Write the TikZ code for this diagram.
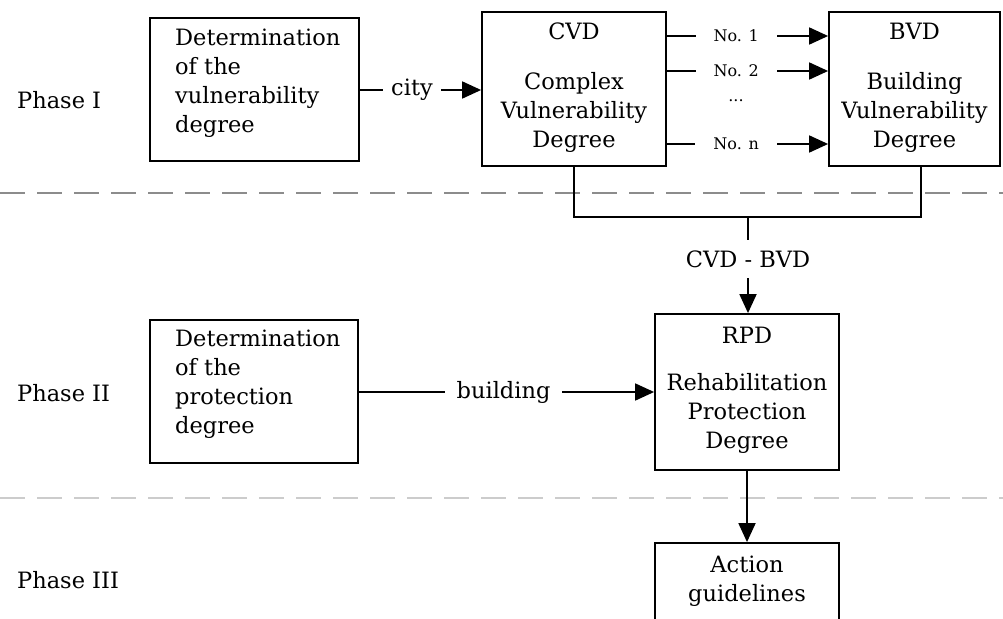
\documentclass[tikz,border=0pt]{standalone}
\usepackage{fontspec}
\setmainfont{DejaVu Serif}
\usetikzlibrary{arrows.meta}
\begin{document}
\begin{tikzpicture}[x=1pt,y=-1pt,
  box/.style={draw, line width=1.8pt, inner sep=0pt},
  txt/.style={font=\fontsize{22.5}{29}\selectfont, inner sep=0pt},
  small/.style={font=\fontsize{16}{18}\selectfont, inner sep=0pt},
  conn/.style={line width=1.8pt},
  arr/.style={line width=1.8pt, -{Triangle[length=19pt,width=17pt]}},
  gap/.style={fill=white, inner ysep=2pt},
  sep1/.style={draw=black!45, line width=1.2pt, dash pattern=on 25pt off 12pt},
  sep2/.style={draw=black!20, line width=1.2pt, dash pattern=on 25pt off 12pt}]
\useasboundingbox (0,0) rectangle (1003,618);
\clip (0,0) rectangle (1003,618);
% separators
\draw[sep1] (0,193) -- (1003,193);
\draw[sep2] (0,498) -- (1003,498);
% phase labels
\node[txt, anchor=west] (p1) at (17,100) {Phase I};
\node[txt, anchor=west] (p2) at (17,393) {Phase II};
\node[txt, anchor=west] (p3) at (17,580) {Phase III};
% boxes
\node[box, minimum width=209pt, minimum height=143pt] (b1) at (254.5,89.5) {};
\node[txt, anchor=west, align=left] (b1t) at (175,83) {Determination\\of the\\vulnerability\\degree};
\node[box, minimum width=184pt, minimum height=154pt] (cvd) at (574,89) {};
\node[txt, align=center] (cvdt) at (574,88) {CVD\\[21pt]Complex\\Vulnerability\\Degree};
\node[box, minimum width=171pt, minimum height=154pt] (bvd) at (914.5,89) {};
\node[txt, align=center] (bvdt) at (914.5,88) {BVD\\[21pt]Building\\Vulnerability\\Degree};
\node[box, minimum width=208pt, minimum height=143pt] (b2) at (254,391.5) {};
\node[txt, anchor=west, align=left] (b2t) at (175,384) {Determination\\of the\\protection\\degree};
\node[box, minimum width=184pt, minimum height=156pt] (rpd) at (747,392) {};
\node[txt, align=center] (rpdt) at (747,390.5) {RPD\\[18pt]Rehabilitation\\Protection\\Degree};
\node[box, minimum width=184pt, minimum height=100pt] (act) at (747,593) {};
\node[txt, align=center] (actt) at (747,581) {Action\\guidelines};
% connectors phase I
\draw[arr] (b1.east |- 0,90) -- node[txt, gap, pos=0.43, inner xsep=8pt] {city} (cvd.west |- 0,90);
\draw[arr] (cvd.east |- 0,36) -- node[small, gap, pos=0.43, inner xsep=18pt] {No. 1} (bvd.west |- 0,36);
\draw[arr] (cvd.east |- 0,71) -- node[small, gap, pos=0.43, inner xsep=18pt] {No. 2} (bvd.west |- 0,71);
\node[small] (dots) at (736,101) {...};
\draw[arr] (cvd.east |- 0,144) -- node[small, gap, pos=0.43, inner xsep=18pt] {No. n} (bvd.west |- 0,144);
% bracket
\coordinate (j) at (748,217);
\draw[conn] (cvd.south) -- (cvd.south |- j) -- (921,217) -- (921,166);
\node[txt] (cb) at (748,259) {CVD - BVD};
\draw[conn] (j) -- (748,240);
\draw[arr] (748,278) -- (rpd.north -| 748,0);
% phase II
\draw[arr] (b2.east |- 0,392) -- node[txt, gap, pos=0.49, inner xsep=12pt] {building} (rpd.west |- 0,392);
% phase III
\draw[arr] (rpd.south) -- (act.north);
\end{tikzpicture}
\end{document}
